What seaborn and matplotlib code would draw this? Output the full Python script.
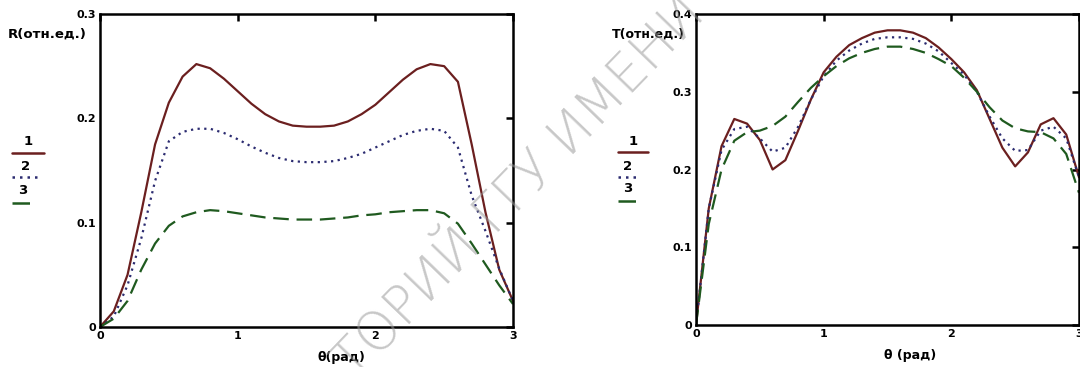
import numpy as np
import matplotlib
matplotlib.use("Agg")
import matplotlib.pyplot as plt
import seaborn as sns
from matplotlib.lines import Line2D

# angle grid (rad), every 0.1
theta = [0.0, 0.1, 0.2, 0.3, 0.4, 0.5, 0.6, 0.7, 0.8, 0.9, 1.0,
         1.1, 1.2, 1.3, 1.4, 1.5, 1.6, 1.7, 1.8, 1.9, 2.0,
         2.1, 2.2, 2.3, 2.4, 2.5, 2.6, 2.7, 2.8, 2.9, 3.0]

# reflection R
r1 = [0.0, 0.015, 0.05, 0.11, 0.175, 0.215, 0.24, 0.252, 0.248, 0.238, 0.226,
      0.214, 0.204, 0.197, 0.193, 0.192, 0.192, 0.193, 0.197, 0.204, 0.213,
      0.225, 0.237, 0.247, 0.252, 0.25, 0.235, 0.175, 0.11, 0.055, 0.025]
r2 = [0.0, 0.01, 0.04, 0.085, 0.14, 0.178, 0.187, 0.19, 0.19, 0.186, 0.18,
      0.173, 0.167, 0.162, 0.159, 0.158, 0.158, 0.159, 0.162, 0.166, 0.172,
      0.178, 0.184, 0.188, 0.19, 0.188, 0.172, 0.126, 0.092, 0.056, 0.025]
r3 = [0.0, 0.008, 0.025, 0.055, 0.08, 0.097, 0.106, 0.11, 0.112, 0.111, 0.109,
      0.107, 0.105, 0.104, 0.103, 0.103, 0.103, 0.104, 0.105, 0.107, 0.108,
      0.11, 0.111, 0.112, 0.112, 0.109, 0.099, 0.08, 0.06, 0.04, 0.022]

# transmission T
t1 = [0.0, 0.15, 0.23, 0.265, 0.259, 0.238, 0.2, 0.212, 0.25, 0.29, 0.325,
      0.345, 0.36, 0.369, 0.376, 0.379, 0.379, 0.376, 0.369, 0.357, 0.342,
      0.325, 0.302, 0.265, 0.228, 0.204, 0.222, 0.258, 0.266, 0.245, 0.19]
t2 = [0.0, 0.15, 0.225, 0.252, 0.255, 0.24, 0.223, 0.228, 0.255, 0.29, 0.32,
      0.34, 0.353, 0.362, 0.368, 0.37, 0.37, 0.368, 0.362, 0.352, 0.337,
      0.322, 0.3, 0.268, 0.24, 0.224, 0.225, 0.25, 0.255, 0.24, 0.19]
t3 = [0.0, 0.13, 0.2, 0.237, 0.248, 0.25, 0.256, 0.268, 0.287, 0.305, 0.32,
      0.333, 0.343, 0.35, 0.355, 0.358, 0.358, 0.355, 0.35, 0.342, 0.333,
      0.318, 0.3, 0.28, 0.263, 0.253, 0.249, 0.248, 0.24, 0.22, 0.17]

labels = ["1", "2", "3"]
colors = ["#6b1f1f", "#2b2b70", "#1f5a1f"]
styles = ["-", (0, (1, 2)), (0, (7, 3.5))]

sns.set_theme(style="white")
plt.rcParams["font.family"] = ["DejaVu Sans"]
plt.rcParams["font.weight"] = "bold"
plt.rcParams["text.color"] = "black"
plt.rcParams["xtick.color"] = "black"
plt.rcParams["ytick.color"] = "black"

fig = plt.figure(figsize=(10.8, 3.67), dpi=100)
axL = fig.add_axes([100 / 1080, 40 / 367, 413 / 1080, 313 / 367])
axR = fig.add_axes([696 / 1080, 42 / 367, 383 / 1080, 311 / 367])


def panel(ax, series, ymax, yticks):
    for y, c, ls in zip(series, colors, styles):
        sns.lineplot(x=theta, y=y, ax=ax, color=c, linestyle=ls, linewidth=1.6)
    ax.set_xlim(0, 3)
    ax.set_ylim(0, ymax)
    ax.set_xticks([0, 1, 2, 3])
    ax.set_xticklabels(["0", "1", "2", "3"])
    ax.set_yticks(yticks)
    ax.set_yticklabels(["0" if v == 0 else f"{v:.1f}" for v in yticks])
    ax.tick_params(direction="in", length=5, width=1.8, colors="black",
                   top=True, right=True, labelsize=8, pad=3)
    for lab in ax.get_xticklabels() + ax.get_yticklabels():
        lab.set_fontweight("bold")
    for s in ax.spines.values():
        s.set_color("black")
        s.set_linewidth(1.8)
    ax.set_xlabel("")
    ax.set_ylabel("")


panel(axL, [r1, r2, r3], 0.3, [0, 0.1, 0.2, 0.3])
panel(axR, [t1, t2, t3], 0.4, [0, 0.1, 0.2, 0.3, 0.4])

# axis captions
fig.text(8 / 1080, 1 - 34 / 367, "R(отн.ед.)", fontsize=9.5, fontweight="bold", va="center")
fig.text(612 / 1080, 1 - 34 / 367, "T(отн.ед.)", fontsize=9, fontweight="bold", va="center")
fig.text(318 / 1080, 1 - 358 / 367, "θ(рад)", fontsize=9, fontweight="bold", va="center")
fig.text(884 / 1080, 1 - 356 / 367, "θ (рад)", fontsize=9, fontweight="bold", va="center")


# Mathcad-style legends: number above a short line sample
def legend(x0, entries):
    for lab, c, ls, ytxt, yline, w in entries:
        fig.text((x0 + w / 2) / 1080, 1 - ytxt / 367, lab, fontsize=9.5,
                 fontweight="bold", ha="center", va="center")
        fig.add_artist(Line2D([x0 / 1080, (x0 + w) / 1080],
                              [1 - yline / 367, 1 - yline / 367],
                              color=c, linestyle=ls, linewidth=1.8))


legend(12, [(labels[0], colors[0], styles[0], 142, 153, 32),
            (labels[1], colors[1], styles[1], 166, 177, 27),
            (labels[2], colors[2], styles[2], 191, 203, 22)])
legend(618, [(labels[0], colors[0], styles[0], 142, 152, 30),
             (labels[1], colors[1], styles[1], 166, 177, 20),
             (labels[2], colors[2], styles[2], 188, 201, 20)])

# repository watermark
fig.text(520 / 1080, 1 - 188 / 367, "ТОРИЙ ГГУ ИМЕНИ", fontsize=38,
         rotation=46, color="#9a9a9a", alpha=0.55, ha="center", va="center",
         fontweight="light", zorder=10)

fig.savefig("out.png", dpi=100)
